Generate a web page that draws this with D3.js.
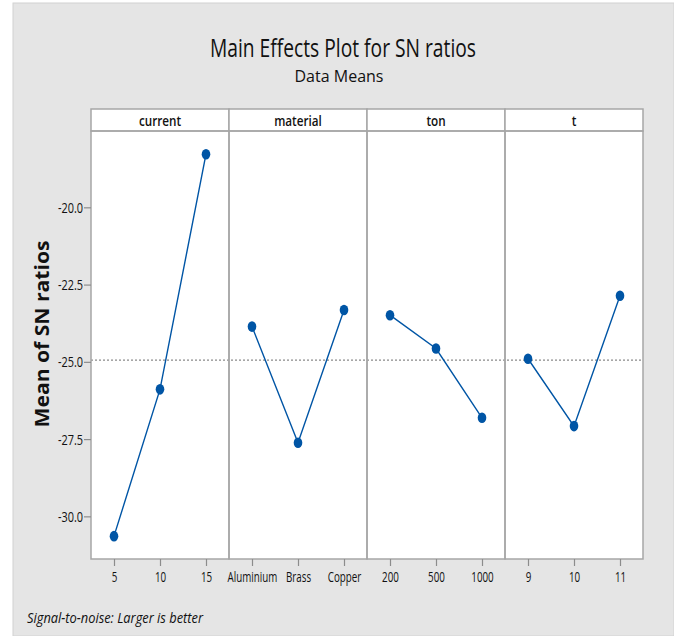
<!DOCTYPE html>
<html>
<head>
<meta charset="utf-8">
<script src="https://cdn.jsdelivr.net/npm/d3@7/dist/d3.min.js"></script>
<style>
  html, body { margin: 0; padding: 0; background: #ffffff; }
  svg { display: block; }
  text { font-family: "Open Sans", "Noto Sans", sans-serif; fill: #111111; }
</style>
</head>
<body>
<svg id="chart" width="674" height="636"></svg>
<script>
// Factors and their levels
const factors = ["current", "material", "ton", "t"];
const currentLevels = ["5", "10", "15"];
const materialLevels = ["Aluminium", "Brass", "Copper"];
const tonLevels = ["200", "500", "1000"];
const tLevels = ["9", "10", "11"];

// Mean SN ratio at each level
const currentMeans = [-30.64, -25.89, -18.28];
const materialMeans = [-23.86, -27.62, -23.32];
const tonMeans = [-23.49, -24.57, -26.81];
const tMeans = [-24.90, -27.08, -22.86];

const yTicks = [-30.0, -27.5, -25.0, -22.5, -20.0];

const panels = [
  { name: factors[0], levels: currentLevels, means: currentMeans },
  { name: factors[1], levels: materialLevels, means: materialMeans },
  { name: factors[2], levels: tonLevels, means: tonMeans },
  { name: factors[3], levels: tLevels, means: tMeans }
];

const svg = d3.select("#chart");
const W = 674, H = 636;

// Condense text horizontally by a factor (narrow typeface look)
function condense(sel, f) {
  sel.each(function () {
    const len = this.getComputedTextLength();
    d3.select(this).attr("textLength", len * f).attr("lengthAdjust", "spacingAndGlyphs");
  });
}
function fitWidth(sel, w) {
  sel.attr("textLength", w).attr("lengthAdjust", "spacingAndGlyphs");
}

// Background
svg.append("rect").attr("x", 13).attr("y", 3).attr("width", W - 13).attr("height", H - 3)
  .attr("fill", "#e5e5e5").attr("stroke", "#d2d2d2").attr("stroke-width", 1);

// Titles
svg.append("text").attr("x", 343).attr("y", 57).attr("text-anchor", "middle")
  .style("font-size", "26px").text("Main Effects Plot for SN ratios").call(fitWidth, 266);
svg.append("text").attr("x", 339).attr("y", 82).attr("text-anchor", "middle")
  .style("font-size", "17px").text("Data Means").call(fitWidth, 89);

// Layout
const left = 91, right = 643, headTop = 109, plotTop = 131, plotBottom = 559;
const panelW = (right - left) / panels.length;

const y = d3.scaleLinear().domain([-31.38, -17.53]).range([plotBottom, plotTop]);

const allMeans = panels.flatMap(p => p.means);
const grandMean = d3.mean(allMeans);

const frameColor = "#a6a6a6";
const blue = "#0055a5";

// Plot areas (white)
svg.append("rect").attr("x", left).attr("y", plotTop).attr("width", right - left)
  .attr("height", plotBottom - plotTop).attr("fill", "#ffffff");

// Reference line at the grand mean
svg.append("line").attr("x1", left).attr("x2", right)
  .attr("y1", y(grandMean)).attr("y2", y(grandMean))
  .attr("stroke", "#8a8a8a").attr("stroke-width", 1.2).attr("stroke-dasharray", "2,2");

panels.forEach((p, i) => {
  const x0 = left + i * panelW;
  const x = d3.scalePoint().domain(p.levels).range([x0, x0 + panelW]).padding(0.5);
  const g = svg.append("g");

  // Header strip
  g.append("rect").attr("x", x0).attr("y", headTop).attr("width", panelW).attr("height", plotTop - headTop)
    .attr("fill", "#ffffff").attr("stroke", frameColor).attr("stroke-width", 1.5);
  g.append("text").attr("x", x0 + panelW / 2).attr("y", headTop + 17).attr("text-anchor", "middle")
    .style("font-size", "15px").style("font-weight", "600").text(p.name).call(condense, 0.78);

  // Panel frame
  g.append("rect").attr("x", x0).attr("y", plotTop).attr("width", panelW).attr("height", plotBottom - plotTop)
    .attr("fill", "none").attr("stroke", frameColor).attr("stroke-width", 1.5);

  // Bottom axis; labels squeezed horizontally for a narrow face
  const ax = g.append("g").attr("transform", `translate(0,${plotBottom})`)
    .call(d3.axisBottom(x).tickSize(7).tickSizeOuter(0));
  ax.select(".domain").remove();
  ax.selectAll(".tick line").attr("stroke", "#8c8c8c").attr("stroke-width", 1.2);
  ax.selectAll(".tick text").attr("dy", "0").attr("y", 23)
    .attr("transform", "scale(0.7,1)")
    .style("font-size", "14px").style("font-family", "'Open Sans', sans-serif").attr("fill", "#111111");

  // Means line and markers
  const pts = p.levels.map((l, k) => [x(l), y(p.means[k])]);
  g.append("path").attr("d", d3.line()(pts)).attr("fill", "none")
    .attr("stroke", blue).attr("stroke-width", 1.4);
  g.selectAll("ellipse").data(pts).join("ellipse")
    .attr("cx", d => d[0]).attr("cy", d => d[1]).attr("rx", 4.3).attr("ry", 5.3)
    .attr("fill", blue);
});

// Left axis (hyphen-minus labels)
const fmt = d => d3.format(".1f")(d).replace("\u2212", "-");
const yAx = svg.append("g").attr("transform", `translate(${left},0)`)
  .call(d3.axisLeft(y).tickValues(yTicks).tickFormat(fmt).tickSize(7).tickSizeOuter(0));
yAx.select(".domain").remove();
yAx.selectAll(".tick line").attr("stroke", "#8c8c8c").attr("stroke-width", 1.2);
yAx.selectAll(".tick text").attr("x", -8 / 0.78).attr("dy", "0.35em")
  .attr("transform", "scale(0.78,1)")
  .style("font-size", "14px").style("font-family", "'Open Sans', sans-serif").attr("fill", "#111111");

// Y-axis title
svg.append("text").attr("transform", "translate(49,334) rotate(-90)").attr("text-anchor", "middle")
  .style("font-size", "19px").style("font-weight", "bold").style("font-family", "'Open Sans', sans-serif")
  .text("Mean of SN ratios").call(fitWidth, 187);

// Footnote
svg.append("text").attr("x", 27).attr("y", 623).style("font-size", "15px").style("font-style", "italic")
  .text("Signal-to-noise: Larger is better").call(fitWidth, 176);
</script>
</body>
</html>
